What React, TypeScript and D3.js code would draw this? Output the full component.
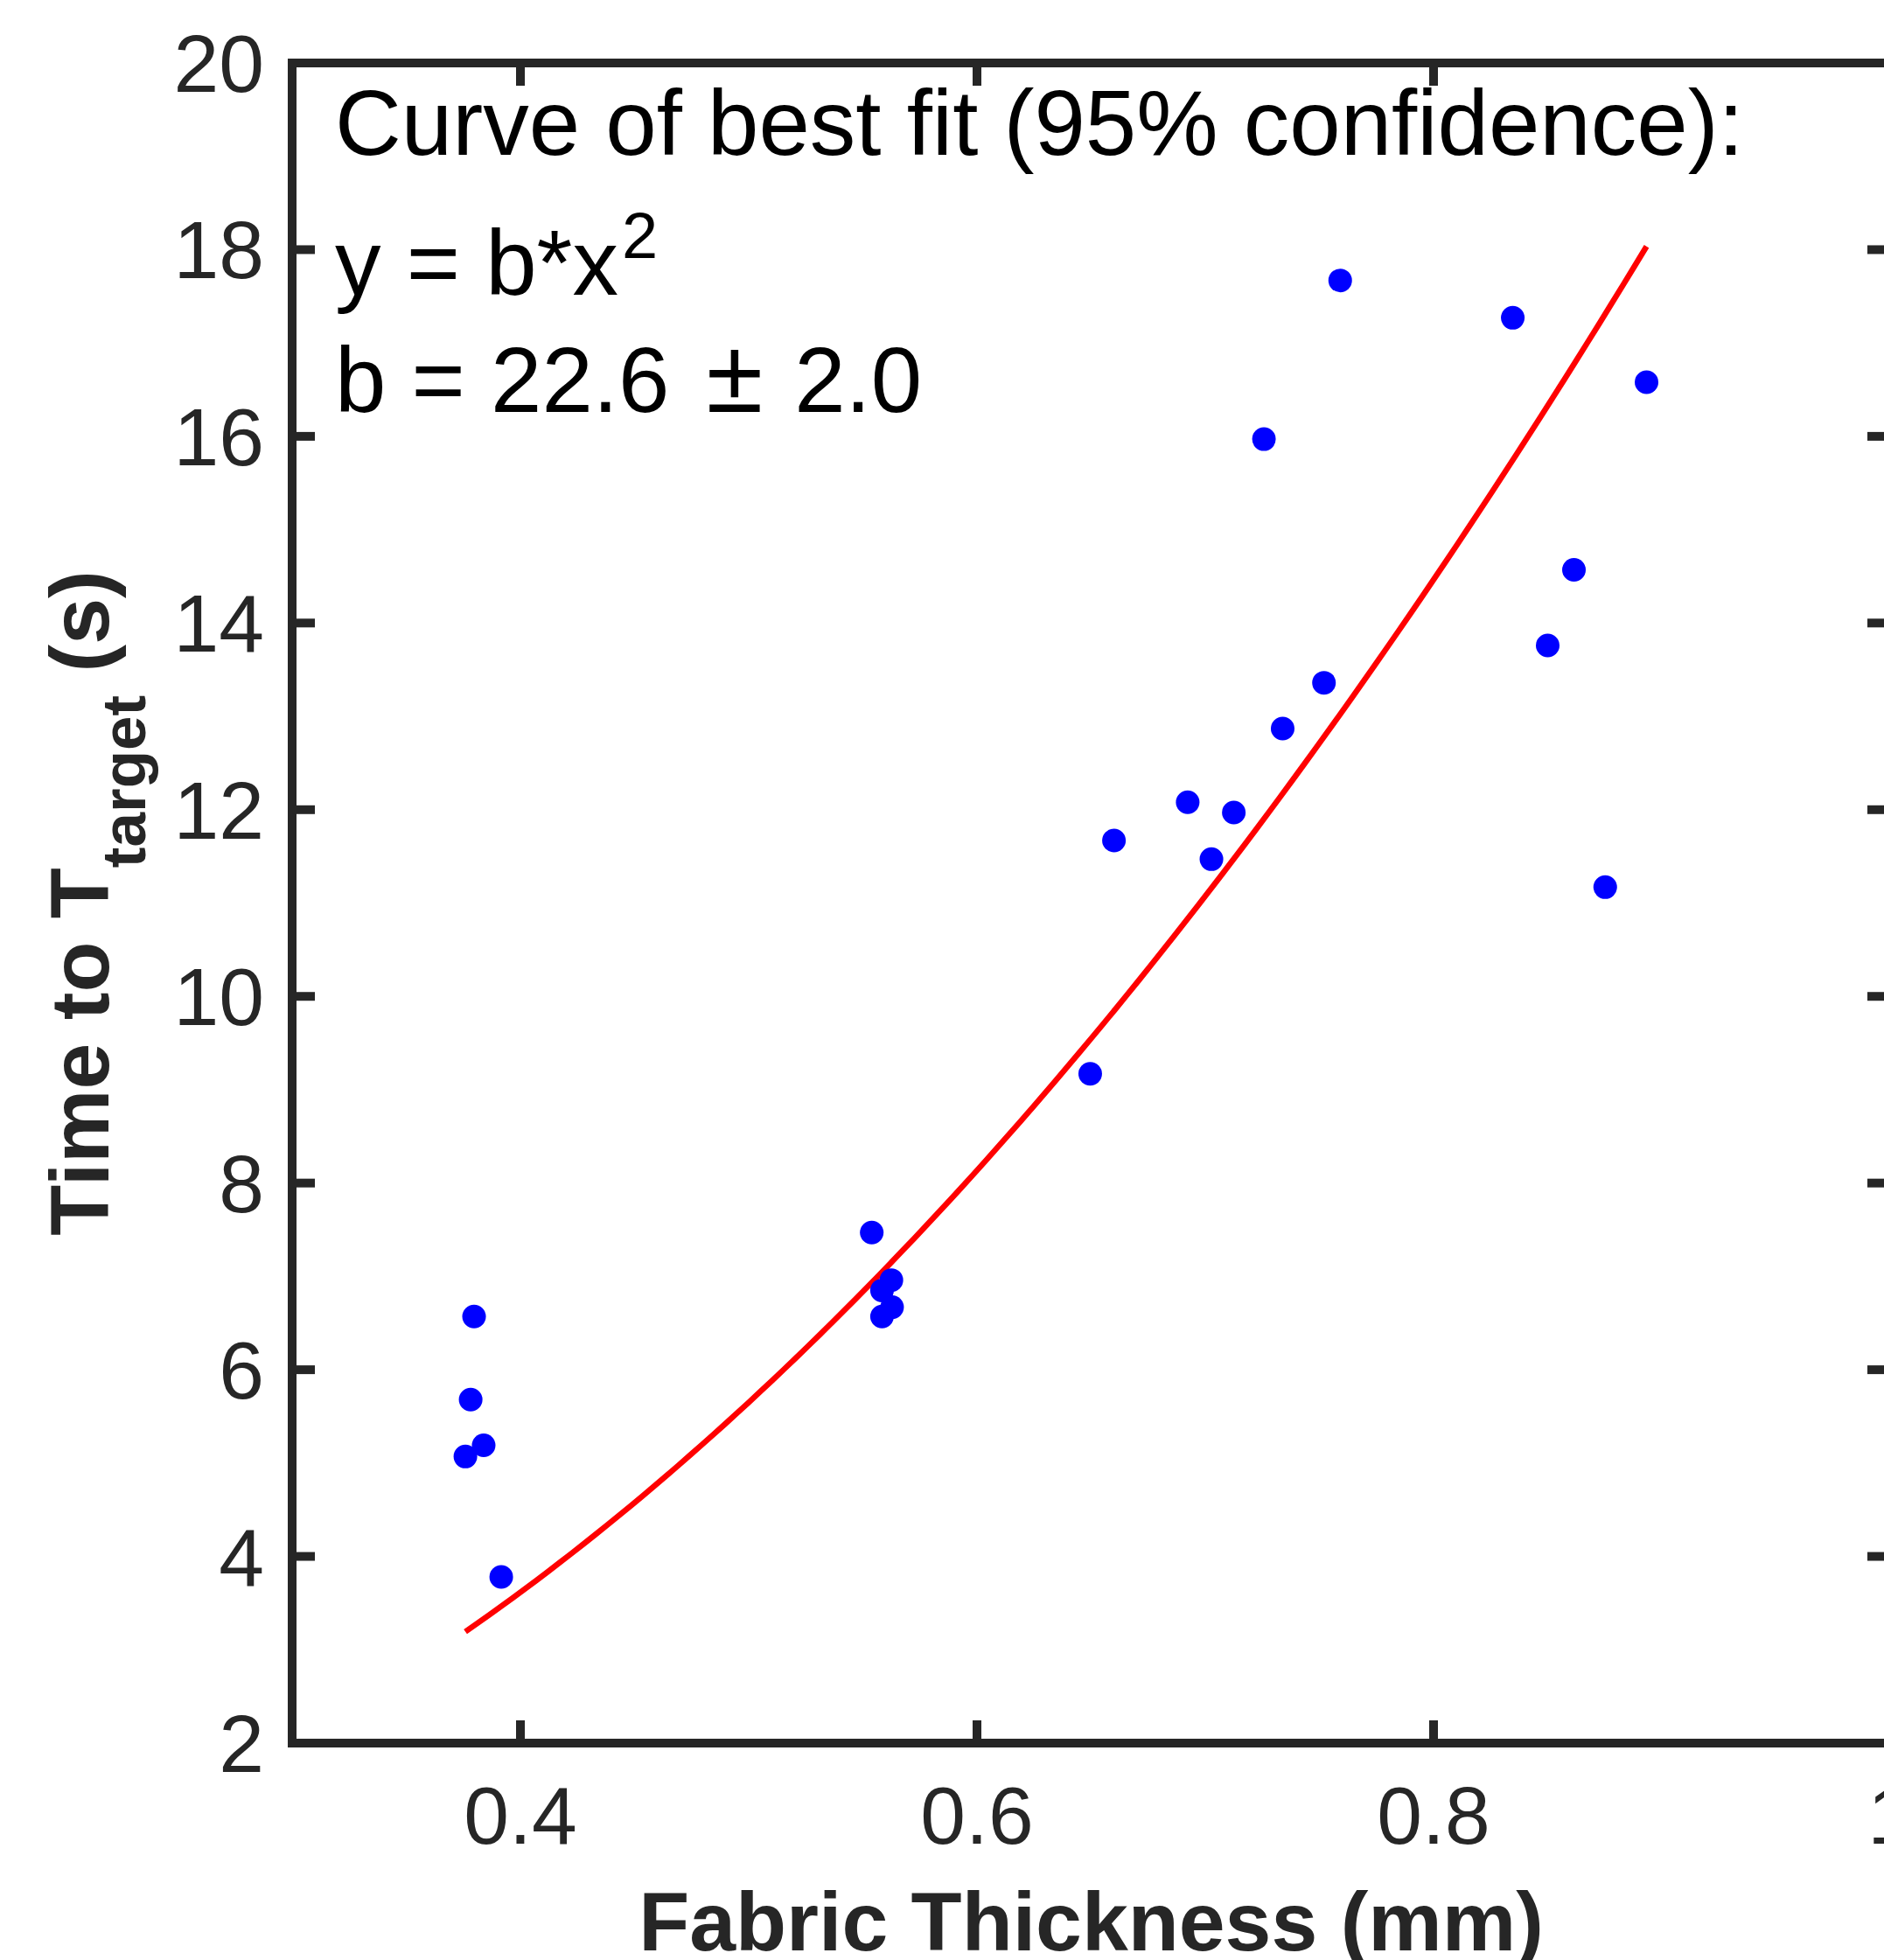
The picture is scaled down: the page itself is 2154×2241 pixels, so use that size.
import React from "react";
import * as d3 from "d3";

// fabric thickness (mm) vs time to reach target temperature (s)
const thickness = [
  0.3759, 0.3782, 0.3797, 0.3839, 0.3916,
  0.5539, 0.5584, 0.5584, 0.5625, 0.5628,
  0.6496, 0.66, 0.6923, 0.7027, 0.7125, 0.7257, 0.7339, 0.752, 0.7591,
  0.8347, 0.85, 0.8615, 0.8752, 0.8933,
];
const timeToTarget = [
  5.07, 5.68, 6.57, 5.19, 3.78,
  7.47, 6.85, 6.57, 6.96, 6.67,
  9.17, 11.67, 12.08, 11.47, 11.97, 15.97, 12.87, 13.36, 17.67,
  17.27, 13.76, 14.57, 11.17, 16.58,
];

const xTicks = [0.4, 0.6, 0.8, 1];
const yTicks = [2, 4, 6, 8, 10, 12, 14, 16, 18, 20];

// fitted coefficient of y = b*x^2
const fitB = 22.6;
const fitErr = 2.0;

const W = 2154;
const H = 2241;
const axisColor = "#262626";
const font = "'Liberation Sans', Arial, Helvetica, sans-serif";

const App = () => {
  const x = d3.scaleLinear().domain([0.3, 1]).range([334, 2161]);
  const y = d3.scaleLinear().domain([2, 20]).range([1993, 72]);

  const [x0, x1] = x.range();
  const [y0, y1] = y.range();
  const tickLen = 26;

  const pts = thickness.map((t, i) => ({ t, v: timeToTarget[i] }));

  // curve spans the range of measured thickness
  const xMin = d3.min(thickness);
  const xMax = d3.max(thickness);
  const curveX = d3.range(0, 101).map((k) => xMin + ((xMax - xMin) * k) / 100);
  const line = d3
    .line()
    .x((d) => x(d))
    .y((d) => y(fitB * d * d));

  const fmt = d3.format("~g");

  return (
    <svg
      width={W}
      height={H}
      style={{ position: "absolute", left: 0, top: 0, background: "#fff" }}
      fontFamily={font}
    >
      <rect x={0} y={0} width={W} height={H} fill="#fff" />

      {/* fit curve */}
      <path d={line(curveX)} fill="none" stroke="#ff0000" strokeWidth={6.5} />

      {/* data points */}
      {pts.map((d, i) => (
        <circle key={i} cx={x(d.t)} cy={y(d.v)} r={13.5} fill="#0000ff" />
      ))}

      {/* frame and ticks */}
      <g stroke={axisColor} strokeWidth={10} fill="none">
        <rect x={x0} y={y1} width={x1 - x0} height={y0 - y1} />
        {xTicks.map((t) => (
          <g key={"xt" + t}>
            <line x1={x(t)} x2={x(t)} y1={y0} y2={y0 - tickLen} />
            <line x1={x(t)} x2={x(t)} y1={y1} y2={y1 + tickLen} />
          </g>
        ))}
        {yTicks.map((t) => (
          <g key={"yt" + t}>
            <line x1={x0} x2={x0 + tickLen} y1={y(t)} y2={y(t)} />
            <line x1={x1} x2={x1 - tickLen} y1={y(t)} y2={y(t)} />
          </g>
        ))}
      </g>

      {/* tick labels */}
      <g fill={axisColor} fontSize={93}>
        {yTicks.map((t) => (
          <text key={"yl" + t} x={x0 - 32} y={y(t) + 33} textAnchor="end">
            {fmt(t)}
          </text>
        ))}
        {xTicks.map((t) => (
          <text key={"xl" + t} x={x(t)} y={2108} textAnchor="middle">
            {fmt(t)}
          </text>
        ))}
      </g>

      {/* axis labels */}
      <text
        x={(x0 + x1) / 2}
        y={2230}
        textAnchor="middle"
        fontSize={95}
        fontWeight="bold"
        fill={axisColor}
      >
        Fabric Thickness (mm)
      </text>
      <text
        transform="rotate(-90)"
        x={-(y0 + y1) / 2}
        y={124}
        textAnchor="middle"
        fontSize={95}
        fontWeight="bold"
        fill={axisColor}
      >
        Time to T
        <tspan fontSize={71} dy={42}>
          target
        </tspan>
        <tspan dy={-42}> (s)</tspan>
      </text>

      {/* fit annotation */}
      <g fill="#000" fontSize={105}>
        <text x={383} y={177}>
          Curve of best fit (95% confidence):
        </text>
        <text x={383} y={337}>
          y = b*x
          <tspan fontSize={74} dx={4} dy={-42}>
            2
          </tspan>
        </text>
        <text x={383} y={471}>
          b = {fitB.toFixed(1)}
          <tspan dx={42} fontSize={118}>±</tspan>
          <tspan dx={36}>{fitErr.toFixed(1)}</tspan>
        </text>
      </g>
    </svg>
  );
};

export default App;
